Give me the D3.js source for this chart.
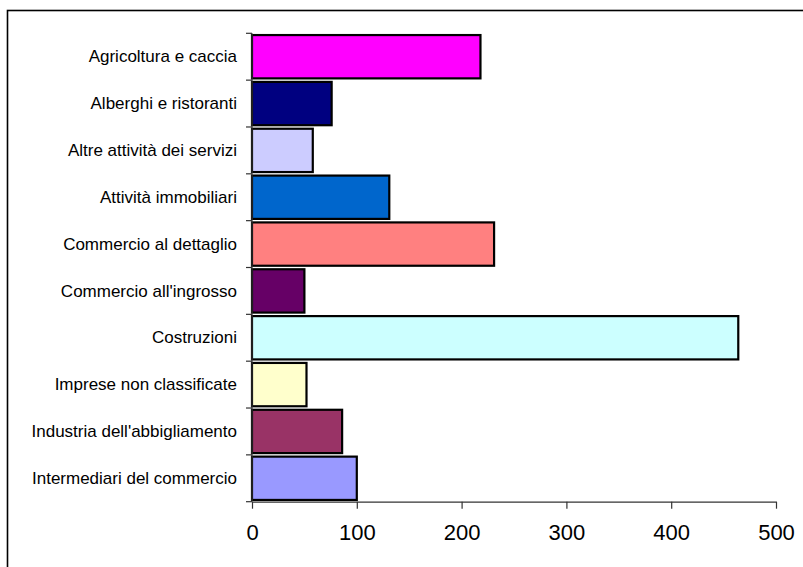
<!DOCTYPE html>
<html>
<head>
<meta charset="utf-8">
<script src="https://cdn.jsdelivr.net/npm/d3@7"></script>
<style>
  html, body { margin: 0; padding: 0; background: #fff; }
  svg { display: block; font-family: Arial, "Liberation Sans", sans-serif; }
</style>
</head>
<body>
<svg id="chart" width="803" height="567"></svg>
<script>
// Sector names, counts and fill colours
const categories = [
  "Agricoltura e caccia",
  "Alberghi e ristoranti",
  "Altre attività dei servizi",
  "Attività immobiliari",
  "Commercio al dettaglio",
  "Commercio all'ingrosso",
  "Costruzioni",
  "Imprese non classificate",
  "Industria dell'abbigliamento",
  "Intermediari del commercio"
];
const values = [218, 76, 58, 131, 231, 50, 464, 52, 86, 100];
const colors = [
  "#FF00FF", "#000080", "#CCCCFF", "#0066CC", "#FF8080",
  "#660066", "#CCFFFF", "#FFFFCC", "#993366", "#9999FF"
];
const xTicks = [0, 100, 200, 300, 400, 500];

const svg = d3.select("#chart");

// Frame around the chart area (open to the right and bottom edges)
svg.append("rect")
  .attr("x", 7.5).attr("y", 10.5)
  .attr("width", 820).attr("height", 600)
  .attr("fill", "none")
  .attr("stroke", "#000")
  .attr("stroke-width", 1.6);

const plotLeft = 252, plotRight = 776, plotTop = 33.3, plotBottom = 501.7;

const x = d3.scaleLinear().domain([0, 500]).range([plotLeft, plotRight]);
const y = d3.scaleBand().domain(categories).range([plotTop, plotBottom])
  .paddingInner(0.075).paddingOuter(0.0375);

// Bars
svg.append("g")
  .selectAll("rect")
  .data(categories)
  .join("rect")
  .attr("x", x(0))
  .attr("y", d => y(d))
  .attr("width", (d, i) => x(values[i]) - x(0))
  .attr("height", y.bandwidth())
  .attr("fill", (d, i) => colors[i])
  .attr("stroke", "#000")
  .attr("stroke-width", 2.2);

// Category axis: ticks on band boundaries, labels at band centres
const yAxisG = svg.append("g");
yAxisG.append("line")
  .attr("x1", plotLeft).attr("x2", plotLeft)
  .attr("y1", plotTop).attr("y2", plotBottom)
  .attr("stroke", "#333").attr("stroke-width", 1.2);
const boundaries = d3.range(categories.length + 1)
  .map(i => plotTop + i * (plotBottom - plotTop) / categories.length);
yAxisG.selectAll("line.tick")
  .data(boundaries)
  .join("line")
  .attr("class", "tick")
  .attr("x1", plotLeft - 6).attr("x2", plotLeft)
  .attr("y1", d => d).attr("y2", d => d)
  .attr("stroke", "#333").attr("stroke-width", 1.2);
yAxisG.selectAll("text")
  .data(categories)
  .join("text")
  .attr("x", 237)
  .attr("y", d => y(d) + y.bandwidth() / 2)
  .attr("dy", "0.33em")
  .attr("text-anchor", "end")
  .attr("font-size", 17)
  .attr("fill", "#000")
  .text(d => d);

// Value axis
const xAxis = d3.axisBottom(x)
  .tickValues(xTicks)
  .tickSize(7)
  .tickPadding(16)
  .tickSizeOuter(0)
  .tickFormat(d3.format("d"));
const xAxisG = svg.append("g")
  .attr("transform", `translate(0,${plotBottom})`)
  .call(xAxis);
xAxisG.select(".domain").attr("stroke", "#333").attr("stroke-width", 1.2);
xAxisG.selectAll(".tick line").attr("stroke", "#333").attr("stroke-width", 1.2);
xAxisG.selectAll(".tick text")
  .attr("font-size", 22)
  .attr("font-family", "Arial, 'Liberation Sans', sans-serif")
  .attr("fill", "#000");
</script>
</body>
</html>
